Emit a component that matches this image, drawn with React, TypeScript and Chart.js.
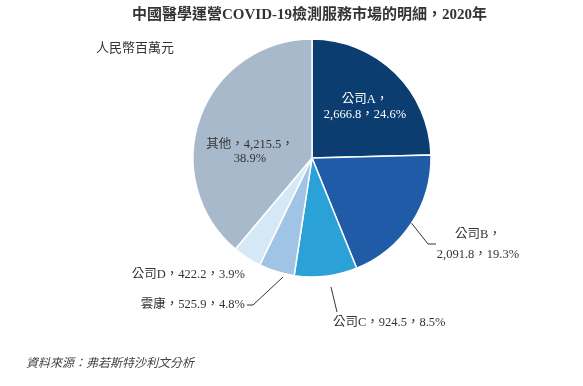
import React, { useEffect, useRef } from "react";
import { Chart, registerables } from "chart.js";

Chart.register(...registerables);

const categories = ["公司A", "公司B", "公司C", "雲康", "公司D", "其他"];
const values = [2666.8, 2091.8, 924.5, 525.9, 422.2, 4215.5];
const shares = [24.6, 19.3, 8.5, 4.8, 3.9, 38.9];
const colors = ["#0c3d70", "#1f5ba7", "#2aa1d7", "#9fc4e6", "#d5e8f6", "#a9b9cc"];

const TITLE = "中國醫學運營COVID-19檢測服務市場的明細，2020年";
const UNIT = "人民幣百萬元";
const SOURCE = "資料來源：弗若斯特沙利文分析";

const FONT = "'Liberation Serif', 'Noto Sans CJK TC', serif";

const fmt = (v: number) =>
  v.toLocaleString("en-US", { minimumFractionDigits: 1, maximumFractionDigits: 1 });

// label layout: offsets relative to the pie centre (px)
type LabelSpec = {
  mode: "inside" | "outside";
  lines: number; // 1 or 2 lines
  text: [number, number][]; // per line anchor
  align: CanvasTextAlign;
  leader?: [number, number][]; // polyline points (relative to centre); first may be 'edge'
  fromEdge?: boolean;
  color: string;
};

const specs: LabelSpec[] = [
  { mode: "inside", lines: 2, text: [[53, -58], [53, -43]], align: "center", color: "#ffffff" },
  { mode: "outside", lines: 2, text: [[166, 77], [166, 97]], align: "center", leader: [[116, 86], [124, 86]], fromEdge: true, color: "#333333" },
  { mode: "outside", lines: 1, text: [[21, 165]], align: "left", leader: [[19, 129], [25, 154]], color: "#333333" },
  { mode: "outside", lines: 1, text: [[-67, 147]], align: "right", leader: [[-29, 119], [-59, 147], [-65, 147]], color: "#333333" },
  { mode: "outside", lines: 1, text: [[-67, 117]], align: "right", color: "#333333" },
  { mode: "inside", lines: 2, text: [[-62, -13], [-62, 1]], align: "center", color: "#333333" },
];

const labelPlugin = {
  id: "sliceLabels",
  afterDatasetsDraw(chart: any) {
    const ctx = chart.ctx as CanvasRenderingContext2D;
    const meta = chart.getDatasetMeta(0);
    meta.data.forEach((arc: any, i: number) => {
      const p = arc.getProps(["x", "y", "startAngle", "endAngle", "outerRadius"], true);
      const s = specs[i];
      const name = categories[i];
      const val = fmt(values[i]);
      const pct = shares[i].toFixed(1) + "%";
      const lines =
        s.lines === 2
          ? i === 5
            ? [`${name}，${val}，`, pct]
            : [`${name}，`, `${val}，${pct}`]
          : [`${name}，${val}，${pct}`];
      ctx.save();
      if (s.leader) {
        ctx.strokeStyle = "#333333";
        ctx.lineWidth = 1;
        ctx.beginPath();
        let first = true;
        if (s.fromEdge) {
          const mid = (p.startAngle + p.endAngle) / 2;
          ctx.moveTo(p.x + p.outerRadius * Math.cos(mid), p.y + p.outerRadius * Math.sin(mid));
          first = false;
        }
        s.leader.forEach(([dx, dy]) => {
          if (first) {
            ctx.moveTo(p.x + dx, p.y + dy);
            first = false;
          } else ctx.lineTo(p.x + dx, p.y + dy);
        });
        ctx.stroke();
      }
      ctx.fillStyle = s.color;
      ctx.font = `12.5px ${FONT}`;
      ctx.textAlign = s.align;
      ctx.textBaseline = "middle";
      lines.forEach((t, k) => {
        const [dx, dy] = s.text[k];
        ctx.fillText(t, p.x + dx, p.y + dy);
      });
      ctx.restore();
    });
  },
};

export default function App() {
  const ref = useRef<HTMLCanvasElement | null>(null);
  useEffect(() => {
    if (!ref.current) return;
    const chart = new Chart(ref.current, {
      type: "pie",
      data: {
        labels: categories,
        datasets: [
          {
            data: values,
            backgroundColor: colors,
            borderColor: "#ffffff",
            borderWidth: 1.5,
          },
        ],
      },
      options: {
        responsive: false,
        animation: false,
        radius: 119,
        layout: { padding: { left: 141, right: 100, top: 40, bottom: 110 } },
        plugins: {
          legend: { display: false },
          tooltip: { enabled: false },
          title: { display: false },
        },
      } as any,
      plugins: [labelPlugin],
    });
    return () => chart.destroy();
  }, []);

  return (
    <div style={{ position: "fixed", left: 0, top: 0, width: 583, height: 386, background: "#ffffff", overflow: "hidden" }}>
      <canvas ref={ref} width={583} height={386} style={{ position: "absolute", left: 0, top: 0, width: 583, height: 386 }} />
      <div
        style={{
          position: "absolute",
          left: 0,
          width: 583,
          top: 5,
          textAlign: "center",
          paddingLeft: 36,
          boxSizing: "border-box",
          fontFamily: FONT,
          fontWeight: "bold",
          fontSize: 15,
          lineHeight: "18px",
          color: "#333333",
          whiteSpace: "nowrap",
        }}
      >
        {TITLE}
      </div>
      <div
        style={{
          position: "absolute",
          left: 96,
          top: 40,
          fontFamily: FONT,
          fontSize: 13,
          lineHeight: "16px",
          color: "#333333",
          whiteSpace: "nowrap",
        }}
      >
        {UNIT}
      </div>
      <div
        style={{
          position: "absolute",
          left: 26,
          top: 355,
          fontFamily: FONT,
          fontStyle: "italic",
          fontSize: 12,
          lineHeight: "16px",
          color: "#444444",
          whiteSpace: "nowrap",
        }}
      >
        {SOURCE}
      </div>
    </div>
  );
}
